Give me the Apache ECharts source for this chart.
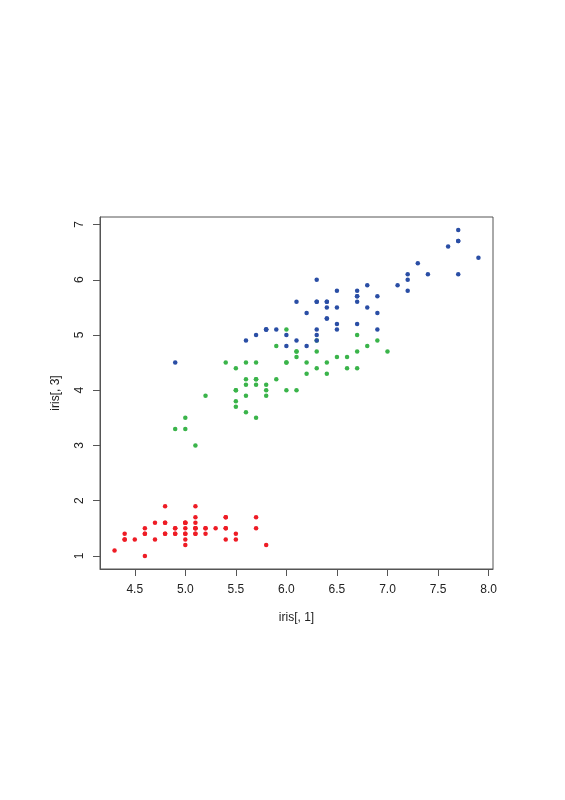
<!DOCTYPE html>
<html>
<head>
<meta charset="utf-8">
<script src="https://cdn.jsdelivr.net/npm/echarts@6/dist/echarts.min.js"></script>
<style>
  html, body { margin: 0; padding: 0; background: #fff; }
  #chart { width: 565px; height: 800px; }
</style>
</head>
<body>
<div id="chart"></div>
<script>
// iris[, 1] (Sepal.Length) and iris[, 3] (Petal.Length) per species
var setosaX = [5.1, 4.9, 4.7, 4.6, 5.0, 5.4, 4.6, 5.0, 4.4, 4.9, 5.4, 4.8, 4.8, 4.3, 5.8, 5.7, 5.4, 5.1, 5.7, 5.1, 5.4, 5.1, 4.6, 5.1, 4.8, 5.0, 5.0, 5.2, 5.2, 4.7, 4.8, 5.4, 5.2, 5.5, 4.9, 5.0, 5.5, 4.9, 4.4, 5.1, 5.0, 4.5, 4.4, 5.0, 5.1, 4.8, 5.1, 4.6, 5.3, 5.0];
var setosaY = [1.4, 1.4, 1.3, 1.5, 1.4, 1.7, 1.4, 1.5, 1.4, 1.5, 1.5, 1.6, 1.4, 1.1, 1.2, 1.5, 1.3, 1.4, 1.7, 1.5, 1.7, 1.5, 1.0, 1.7, 1.9, 1.6, 1.6, 1.5, 1.4, 1.6, 1.6, 1.5, 1.5, 1.4, 1.5, 1.2, 1.3, 1.4, 1.3, 1.5, 1.3, 1.3, 1.3, 1.6, 1.9, 1.4, 1.6, 1.4, 1.5, 1.4];
var versicolorX = [7.0, 6.4, 6.9, 5.5, 6.5, 5.7, 6.3, 4.9, 6.6, 5.2, 5.0, 5.9, 6.0, 6.1, 5.6, 6.7, 5.6, 5.8, 6.2, 5.6, 5.9, 6.1, 6.3, 6.1, 6.4, 6.6, 6.8, 6.7, 6.0, 5.7, 5.5, 5.5, 5.8, 6.0, 5.4, 6.0, 6.7, 6.3, 5.6, 5.5, 5.5, 6.1, 5.8, 5.0, 5.6, 5.7, 5.7, 6.2, 5.1, 5.7];
var versicolorY = [4.7, 4.5, 4.9, 4.0, 4.6, 4.5, 4.7, 3.3, 4.6, 3.9, 3.5, 4.2, 4.0, 4.7, 3.6, 4.4, 4.5, 4.1, 4.5, 3.9, 4.8, 4.0, 4.9, 4.7, 4.3, 4.4, 4.8, 5.0, 4.5, 3.5, 3.8, 3.7, 3.9, 5.1, 4.5, 4.5, 4.7, 4.4, 4.1, 4.0, 4.4, 4.6, 4.0, 3.3, 4.2, 4.2, 4.2, 4.3, 3.0, 4.1];
var virginicaX = [6.3, 5.8, 7.1, 6.3, 6.5, 7.6, 4.9, 7.3, 6.7, 7.2, 6.5, 6.4, 6.8, 5.7, 5.8, 6.4, 6.5, 7.7, 7.7, 6.0, 6.9, 5.6, 7.7, 6.3, 6.7, 7.2, 6.2, 6.1, 6.4, 7.2, 7.4, 7.9, 6.4, 6.3, 6.1, 7.7, 6.3, 6.4, 6.0, 6.9, 6.7, 6.9, 5.8, 6.8, 6.7, 6.7, 6.3, 6.5, 6.2, 5.9];
var virginicaY = [6.0, 5.1, 5.9, 5.6, 5.8, 6.6, 4.5, 6.3, 5.8, 6.1, 5.1, 5.3, 5.5, 5.0, 5.1, 5.3, 5.5, 6.7, 6.9, 5.0, 5.7, 4.9, 6.7, 4.9, 5.7, 6.0, 4.8, 4.9, 5.6, 5.8, 6.1, 6.4, 5.6, 5.1, 5.6, 6.1, 5.6, 5.5, 4.8, 5.4, 5.6, 5.1, 5.1, 5.9, 5.7, 5.2, 5.0, 5.2, 5.4, 5.1];

var xTicks = [4.5, 5.0, 5.5, 6.0, 6.5, 7.0, 7.5, 8.0];
var yTicks = [1, 2, 3, 4, 5, 6, 7];

function pairs(xs, ys) {
  return xs.map(function (x, i) { return [x, ys[i]]; });
}

// R pads the data range by 4% on each side
function padRange(values) {
  var lo = Math.min.apply(null, values), hi = Math.max.apply(null, values);
  var d = (hi - lo) * 0.04;
  return [lo - d, hi + d];
}

var xRange = padRange(setosaX.concat(versicolorX, virginicaX));
var yRange = padRange(setosaY.concat(versicolorY, virginicaY));

var font = "Liberation Sans, Arial, Helvetica, sans-serif";
var frameColor = "#555";

var chart = echarts.init(document.getElementById("chart"), null, { renderer: "canvas" });

function dotSeries(name, data, color) {
  return {
    name: name,
    type: "scatter",
    data: data,
    symbol: "circle",
    symbolSize: 4.5,
    itemStyle: { color: color, opacity: 1 },
    animation: false
  };
}

chart.setOption({
  backgroundColor: "#fff",
  grid: {
    left: 100,
    right: 72,
    top: 217,
    bottom: 231,
    show: true,
    borderColor: frameColor,
    borderWidth: 1
  },
  xAxis: {
    type: "value",
    min: xRange[0],
    max: xRange[1],
    name: "iris[, 1]",
    nameLocation: "middle",
    nameGap: 43,
    nameTextStyle: { fontFamily: font, fontSize: 12, color: "#222" },
    axisLine: { show: true, lineStyle: { color: frameColor } },
    axisTick: {
      show: true,
      length: 7,
      inside: false,
      customValues: xTicks,
      lineStyle: { color: frameColor }
    },
    axisLabel: {
      customValues: xTicks,
      margin: 15,
      fontFamily: font,
      fontSize: 12,
      color: "#222",
      formatter: function (v) { return v.toFixed(1); }
    },
    splitLine: { show: false }
  },
  yAxis: {
    type: "value",
    min: yRange[0],
    max: yRange[1],
    name: "iris[, 3]",
    nameLocation: "middle",
    nameGap: 38,
    nameRotate: 90,
    nameTextStyle: { fontFamily: font, fontSize: 12, color: "#222" },
    axisLine: { show: true, lineStyle: { color: frameColor } },
    axisTick: {
      show: true,
      length: 7,
      inside: false,
      customValues: yTicks,
      lineStyle: { color: frameColor }
    },
    axisLabel: {
      customValues: yTicks,
      rotate: 90,
      margin: 14,
      fontFamily: font,
      fontSize: 12,
      color: "#222",
      formatter: function (v) { return String(v); }
    },
    splitLine: { show: false }
  },
  series: [
    dotSeries("setosa", pairs(setosaX, setosaY), "#ee1c25"),
    dotSeries("versicolor", pairs(versicolorX, versicolorY), "#3ab44a"),
    dotSeries("virginica", pairs(virginicaX, virginicaY), "#2a4ea5")
  ]
});
</script>
</body>
</html>
